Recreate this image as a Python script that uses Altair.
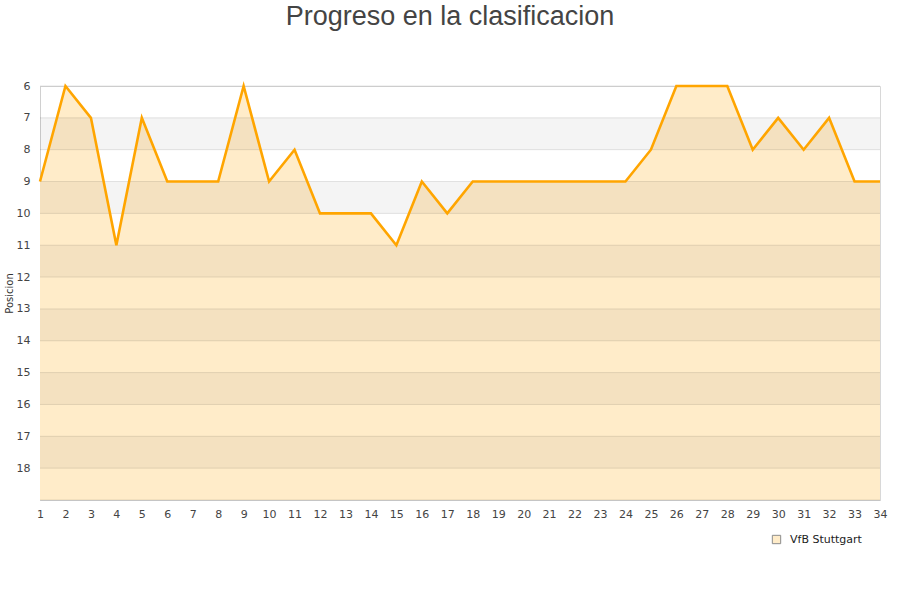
import altair as alt
import pandas as pd

# Matchday-by-matchday league position
jornadas = list(range(1, 35))
posiciones = [9, 6, 7, 11, 7, 9, 9, 9, 6, 9, 8, 10, 10, 10, 11, 9, 10, 9, 9, 9,
              9, 9, 9, 9, 8, 6, 6, 6, 8, 7, 8, 7, 9, 9]
equipo = "VfB Stuttgart"

# Shaded alternating rows and horizontal grid positions
bandas_inicio = [7, 9, 11, 13, 15, 17]
lineas_grid = list(range(6, 20))
etiquetas_y = list(range(6, 19))

W, H = 840, 414

df = pd.DataFrame({"jornada": jornadas, "pos": posiciones, "equipo": equipo})
bandas = pd.DataFrame({"y0": bandas_inicio, "y1": [b + 1 for b in bandas_inicio]})
grid = pd.DataFrame({"y": lineas_grid})

yscale = alt.Scale(domain=[6, 19], reverse=True, nice=False, zero=False)
xscale = alt.Scale(domain=[1, 34], nice=False, zero=False)

x_axis = alt.Axis(values=jornadas, tickCount=len(jornadas), title=None, labelAngle=0,
                  ticks=False, grid=False, domainColor="#d0d0d0", labelColor="#444",
                  labelFontSize=11, labelFont="DejaVu Sans", labelPadding=8,
                  labelFlush=False, labelOverlap=False)
y_axis = alt.Axis(values=etiquetas_y, tickCount=len(etiquetas_y), title="Posicion",
                  ticks=False, grid=False, domainColor="#d0d0d0", labelColor="#444",
                  labelFontSize=11, labelFont="DejaVu Sans", labelPadding=10,
                  labelOverlap=False, titleFont="DejaVu Sans", titleFontSize=10,
                  titleFontWeight="normal", titleColor="#333", titlePadding=2)

# Light filled area below the position line
area_layer = alt.Chart(df).mark_area(interpolate="linear").encode(
    x=alt.X("jornada:Q", scale=xscale, axis=x_axis),
    y=alt.Y("pos:Q", scale=yscale, axis=y_axis),
    y2=alt.datum(19),
    fill=alt.Fill("equipo:N", scale=alt.Scale(range=["#ffecc9"]),
                  legend=alt.Legend(title=None, orient="none", legendX=731, legendY=448,
                                    symbolType="square", symbolSize=70,
                                    symbolStrokeColor="#8c8c8c", symbolStrokeWidth=1,
                                    labelFont="DejaVu Sans", labelFontSize=11,
                                    labelColor="#222", labelOffset=8)),
)

# Alternating row shading, darkening whatever lies beneath
band_layer = alt.Chart(bandas).mark_rect(color="#000000", opacity=0.045).encode(
    x=alt.value(0), x2=alt.value(W),
    y=alt.Y("y0:Q", scale=yscale), y2="y1:Q",
)

grid_layer = alt.Chart(grid).mark_rule(color="#000000", opacity=0.1, strokeWidth=1).encode(
    x=alt.value(0), x2=alt.value(W),
    y=alt.Y("y:Q", scale=yscale),
)

line_layer = alt.Chart(df).mark_line(color="#ffa500", strokeWidth=2.6).encode(
    x=alt.X("jornada:Q", scale=xscale),
    y=alt.Y("pos:Q", scale=yscale),
)

chart = alt.layer(area_layer, band_layer, grid_layer, line_layer).properties(
    width=W, height=H,
    title=alt.TitleParams("Progreso en la clasificacion", fontSize=27,
                          font="Liberation Sans", fontWeight="normal", color="#444",
                          anchor="middle", dx=-10, offset=49),
    autosize=alt.AutoSizeParams(type="none"),
    padding={"left": 40, "top": 86, "right": 20, "bottom": 100},
    background="white",
).configure_view(stroke="#d8d8d8", strokeWidth=1).configure_axis(labelOverlap=False)

chart.save("out.html", embed_options={"renderer": "svg", "actions": False})
